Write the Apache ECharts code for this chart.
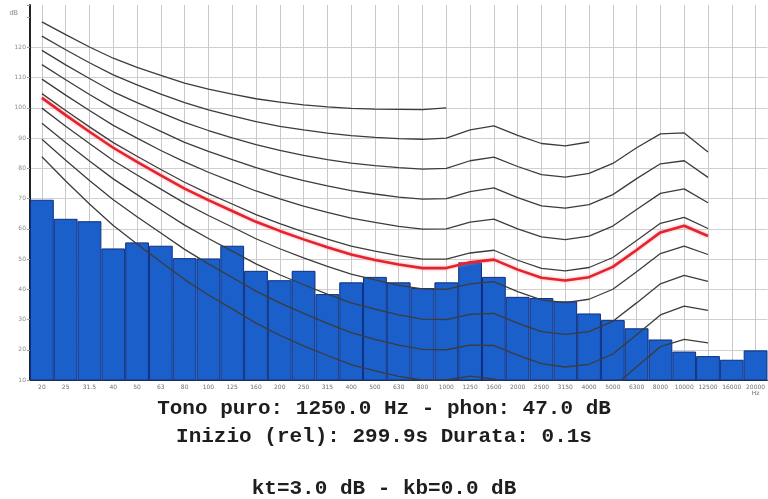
<!DOCTYPE html>
<html>
<head>
<meta charset="utf-8">
<script src="https://cdn.jsdelivr.net/npm/echarts@6/dist/echarts.min.js"></script>
<style>
  html, body { margin: 0; padding: 0; background: #ffffff; }
  #chart { width: 768px; height: 499px; }
</style>
</head>
<body>
<div id="chart"></div>
<script>
// 1/3-octave band centre frequencies (Hz)
const bands = ['20', '25', '31.5', '40', '50', '63', '80', '100', '125', '160', '200', '250', '315', '400',
  '500', '630', '800', '1000', '1250', '1600', '2000', '2500', '3150', '4000', '5000', '6300', '8000',
  '10000', '12500', '16000', '20000'];

// Measured band levels (dB)
const bandLevels = [69.6, 63.3, 62.5, 53.5, 55.5, 54.4, 50.3, 50.2, 54.4, 46.1, 43.0, 46.1, 38.4, 42.3,
  44.1, 42.3, 40.4, 42.3, 48.9, 44.1, 37.5, 37.1, 36.0, 32.0, 29.8, 27.1, 23.4, 19.4, 17.9, 16.7, 19.8];

// Equal-loudness contours (dB SPL per band, starting at 20 Hz)
const phon10 = [83.8, 75.8, 68.2, 61.1, 55.0, 49.0, 43.2, 38.1, 33.5, 28.8, 24.8, 21.3, 18.1, 15.1, 13.0,
  11.2, 10.0, 10.0, 11.3, 10.4, 7.3, 4.5, 3.1, 3.8, 7.5, 14.4, 21.0, 23.4, 22.3];
const phon20 = [89.6, 82.7, 76.0, 69.6, 64.0, 58.6, 53.2, 48.4, 43.9, 39.4, 35.5, 32.0, 28.7, 25.7, 23.4,
  21.5, 20.1, 20.0, 21.5, 21.4, 18.2, 15.4, 14.3, 15.2, 18.6, 25.0, 31.5, 34.4, 33.0];
const phon30 = [94.9, 88.5, 82.4, 76.5, 71.3, 66.2, 61.2, 56.8, 52.6, 48.4, 44.8, 41.5, 38.4, 35.5, 33.4,
  31.5, 30.1, 30.0, 31.7, 32.0, 28.8, 26.0, 25.1, 26.0, 29.4, 35.5, 41.8, 44.6, 42.6];
const phon40 = [99.9, 93.9, 88.2, 82.6, 77.8, 73.1, 68.5, 64.4, 60.6, 56.7, 53.4, 50.4, 47.6, 45.0, 43.1,
  41.3, 40.1, 40.0, 41.8, 42.5, 39.2, 36.5, 35.6, 36.7, 40.0, 45.8, 51.8, 54.3, 51.5];
const phon47 = [103.3, 97.6, 92.1, 86.8, 82.1, 77.7, 73.3, 69.5, 65.9, 62.3, 59.3, 56.5, 53.9, 51.5, 49.7,
  48.2, 47.0, 47.0, 48.9, 49.8, 46.5, 43.8, 42.9, 44.0, 47.4, 53.0, 58.8, 61.0, 57.6];
const phon50 = [104.7, 99.1, 93.7, 88.5, 84.0, 79.6, 75.4, 71.6, 68.2, 64.7, 61.7, 59.0, 56.6, 54.3, 52.6,
  51.1, 50.0, 50.0, 52.0, 52.9, 49.6, 46.9, 46.1, 47.2, 50.5, 56.1, 61.8, 63.8, 60.1];
const phon60 = [109.5, 104.2, 99.1, 94.2, 90.0, 85.9, 82.1, 78.7, 75.6, 72.5, 69.9, 67.5, 65.4, 63.5, 62.1,
  60.8, 59.9, 60.0, 62.2, 63.2, 60.0, 57.3, 56.4, 57.6, 60.9, 66.4, 71.7, 73.2, 68.6];
const phon70 = [114.3, 109.3, 104.4, 99.8, 95.9, 92.2, 88.6, 85.6, 82.9, 80.2, 77.9, 75.9, 74.2, 72.6, 71.5,
  70.5, 69.8, 70.0, 72.3, 73.5, 70.3, 67.6, 66.8, 68.0, 71.3, 76.6, 81.5, 82.5, 77.0];
const phon80 = [119.0, 114.2, 109.7, 105.3, 101.7, 98.4, 95.2, 92.5, 90.1, 87.8, 85.9, 84.3, 82.9, 81.7, 80.9,
  80.2, 79.7, 80.0, 82.5, 83.7, 80.6, 77.9, 77.1, 78.3, 81.6, 86.8, 91.4, 91.7, 85.4];
const phon90 = [123.7, 119.2, 114.9, 110.9, 107.6, 104.5, 101.7, 99.3, 97.3, 95.4, 93.9, 92.7, 91.6, 90.8, 90.2,
  89.8, 89.6, 90.0, 92.7, 94.0, 90.9, 88.2, 87.4, 88.7];
const phon100 = [128.4, 124.2, 120.1, 116.4, 113.4, 110.7, 108.2, 106.2, 104.5, 103.0, 101.9, 101.0, 100.3,
  99.8, 99.6, 99.5, 99.4, 100.0];

// Highlighted contour (loudness of the detected tone)
const tonePhon = 47;

// Level axis ticks
const levelMin = 10;
const levelMax = 134;
const levelStep = 10;

const greyContours = [phon100, phon90, phon80, phon70, phon60, phon50, phon40, phon30, phon20, phon10];

function padToBands(arr) {
  const out = arr.slice();
  while (out.length < bands.length) out.push(null);
  return out;
}

const contourSeries = greyContours.map(function (arr) {
  return {
    type: 'line',
    data: padToBands(arr),
    symbol: 'none',
    smooth: false,
    clip: true,
    silent: true,
    z: 4,
    lineStyle: { color: '#3c3c3c', width: 1.3 }
  };
});

contourSeries.push({
  type: 'line',
  name: tonePhon + ' phon',
  data: padToBands(phon47),
  symbol: 'none',
  smooth: false,
  clip: true,
  silent: true,
  z: 5,
  lineStyle: { color: '#e4232d', width: 2.6, shadowBlur: 3, shadowColor: 'rgba(255,120,140,0.7)' }
});

// one colour per horizontal grid line: 10..120 visible, above that hidden
const hLineColors = [];
for (let v = levelMin; v <= levelMax + levelStep; v += levelStep) {
  hLineColors.push(v <= 120 ? '#cfcfcf' : 'rgba(0,0,0,0)');
}

const chart = echarts.init(document.getElementById('chart'), null, { renderer: 'canvas' });

const textFont = { fontFamily: 'Liberation Mono', fontWeight: 'bold', fontSize: 21, color: '#1e1e1e' };

chart.setOption({
  animation: false,
  backgroundColor: '#ffffff',
  title: [
    { text: 'Tono puro: 1250.0 Hz - phon: 47.0 dB', left: 'center', top: 398, padding: 0, textStyle: textFont },
    { text: 'Inizio (rel): 299.9s Durata: 0.1s', left: 'center', top: 426, padding: 0, textStyle: textFont },
    { text: 'kt=3.0 dB - kb=0.0 dB', left: 'center', top: 478, padding: 0, textStyle: textFont }
  ],
  grid: { left: 30, right: -6, top: 5, bottom: 119, containLabel: false },
  xAxis: {
    type: 'category',
    data: bands,
    boundaryGap: true,
    axisLine: { show: true, lineStyle: { color: '#333', width: 1 } },
    axisTick: { show: false },
    axisLabel: {
      interval: 0,
      fontSize: 6,
      color: '#6f6f6f',
      margin: 4,
      fontFamily: 'DejaVu Sans',
      hideOverlap: false,
      formatter: function (v, i) { return i === bands.length - 1 ? v + '\nHz' : v; }
    },
    splitLine: { show: true, alignWithLabel: true, lineStyle: { color: '#c9c9c9', width: 1 } }
  },
  yAxis: {
    type: 'value',
    min: levelMin,
    max: levelMax,
    interval: levelStep,
    name: 'dB',
    nameLocation: 'end',
    nameGap: -12,
    nameTextStyle: { fontSize: 7, color: '#888', align: 'right', padding: [0, 12, 0, 0] },
    axisLine: { show: true, lineStyle: { color: '#222', width: 2 } },
    axisTick: { show: true, length: 3, lineStyle: { color: '#999' } },
    axisLabel: {
      fontSize: 6,
      color: '#8a8a8a',
      margin: 4,
      fontFamily: 'DejaVu Sans',
      formatter: function (v) { return v > 120 ? '' : String(v); }
    },
    splitLine: { show: true, lineStyle: { color: hLineColors, width: 1 } }
  },
  series: [
    {
      type: 'bar',
      data: bandLevels,
      barCategoryGap: '0%',
      z: 2,
      itemStyle: { color: '#1b5fca', borderColor: '#0c2f80', borderWidth: 1 }
    }
  ].concat(contourSeries)
});
</script>
</body>
</html>
